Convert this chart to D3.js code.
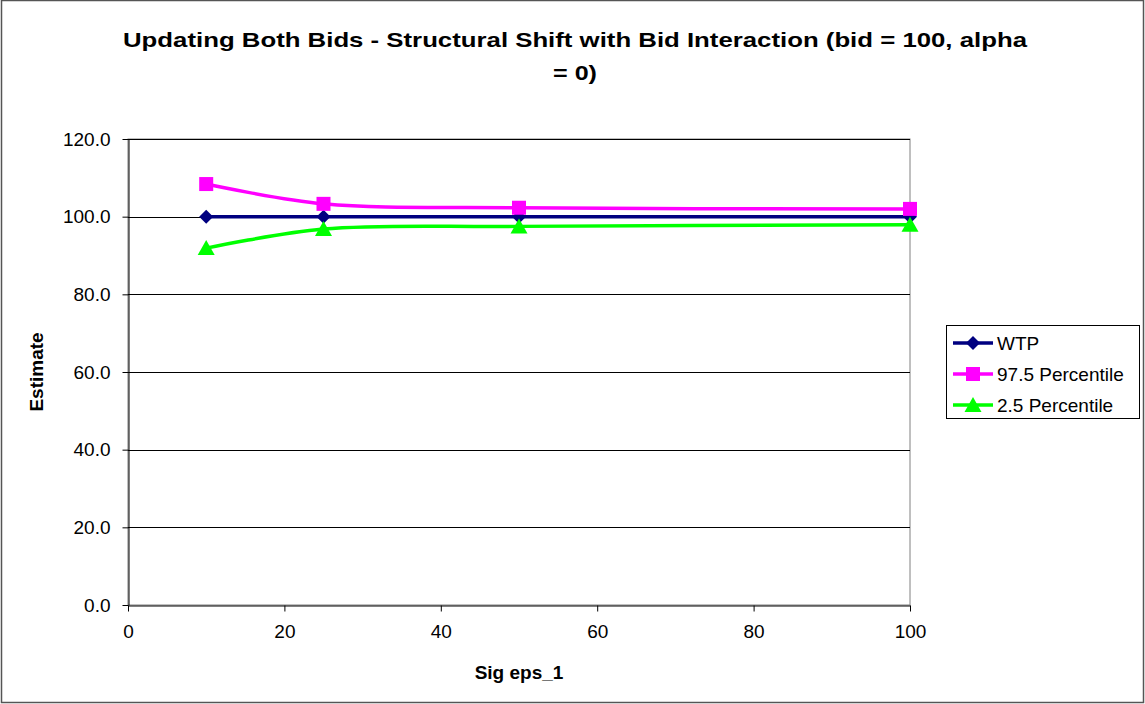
<!DOCTYPE html>
<html><head><meta charset="utf-8">
<script src="https://cdn.jsdelivr.net/npm/d3@7"></script>
<style>body{margin:0;background:#fff}svg{display:block}</style>
</head><body>
<svg id="c" width="1145" height="704"></svg>
<script>
const xValues = [10, 25, 50, 100];
const wtp = [100.0, 100.0, 100.0, 100.0];
const p975 = [108.4, 103.3, 102.3, 102.0];
const p025 = [91.9, 96.8, 97.5, 97.9];
const seriesNames = ["WTP", "97.5 Percentile", "2.5 Percentile"];
const seriesColors = ["#000080", "#FF00FF", "#00FF00"];
const seriesShapes = ["diamond", "square", "triangle"];
const xTicks = [0, 20, 40, 60, 80, 100];
const yTicks = [0, 20, 40, 60, 80, 100, 120];
const titleLines = ["Updating Both Bids - Structural Shift with Bid Interaction (bid = 100, alpha", "= 0)"];

const svg = d3.select("#c");
const font = "Arial, 'Liberation Sans', sans-serif";
svg.append("rect").attr("x",1.5).attr("y",0.5).attr("width",1142).attr("height",702)
  .attr("fill","#fff").attr("stroke","#555").attr("stroke-width",1.5);

const L=128, R=910, T=139, B=605;
const x = d3.scaleLinear().domain([0,100]).range([L,R]);
const y = d3.scaleLinear().domain([0,120]).range([B,T]);

// title
const titleLens = [904, 44];
svg.append("g").selectAll("text").data(titleLines).join("text")
  .attr("x",575).attr("y",(d,i)=>47+i*33).attr("text-anchor","middle")
  .attr("font-family",font).attr("font-weight","bold").attr("font-size",21)
  .attr("textLength",(d,i)=>titleLens[i]).attr("lengthAdjust","spacingAndGlyphs").text(d=>d);

// plot border
svg.append("rect").attr("x",L).attr("y",T).attr("width",R-L).attr("height",B-T)
  .attr("fill","none").attr("stroke","#808080").attr("stroke-width",1);
// gridlines
svg.append("g").selectAll("line").data(yTicks.filter(d=>d>0)).join("line")
  .attr("x1",L).attr("x2",R).attr("y1",d=>Math.round(y(d))+0.5).attr("y2",d=>Math.round(y(d))+0.5)
  .attr("stroke","#000").attr("stroke-width",1);

// axes
const yAxis = svg.append("g").attr("transform",`translate(${L+0.5},0)`)
  .call(d3.axisLeft(y).tickValues(yTicks).tickFormat(d3.format(".1f")).tickSize(6).tickSizeOuter(0));
yAxis.selectAll("text").attr("font-family",font).attr("font-size",19).attr("fill","#000").attr("dx",-9);
const xAxis = svg.append("g").attr("transform",`translate(0,${B+0.5})`)
  .call(d3.axisBottom(x).tickValues(xTicks).tickSize(6).tickSizeOuter(0));
xAxis.selectAll("text").attr("font-family",font).attr("font-size",19).attr("fill","#000").attr("dy","1.25em");
svg.selectAll(".domain, .tick line").attr("stroke","#000");

// axis labels
svg.append("text").attr("x",519).attr("y",679).attr("text-anchor","middle")
  .attr("font-family",font).attr("font-weight","bold").attr("font-size",19).text("Sig eps_1");
svg.append("text").attr("transform",`translate(43,372) rotate(-90)`).attr("text-anchor","middle")
  .attr("font-family",font).attr("font-weight","bold").attr("font-size",19).text("Estimate");

const series = [wtp, p975, p025];
const line = d3.line().x((d,i)=>x(xValues[i])).y(d=>y(d)).curve(d3.curveCatmullRom.alpha(0.5));

function marker(g, shape, cx, cy, color){
  if(shape==="diamond"){
    g.append("path").attr("d",`M${cx},${cy-7}L${cx+7},${cy}L${cx},${cy+7}L${cx-7},${cy}Z`).attr("fill",color);
  } else if(shape==="square"){
    g.append("rect").attr("x",cx-7).attr("y",cy-7).attr("width",14).attr("height",14).attr("fill",color);
  } else {
    g.append("path").attr("d",`M${cx},${cy-8}L${cx+8.5},${cy+7}L${cx-8.5},${cy+7}Z`).attr("fill",color);
  }
}

const plotG = svg.append("g");
series.forEach((s,k)=>{
  plotG.append("path").datum(s).attr("d",line).attr("fill","none")
    .attr("stroke",seriesColors[k]).attr("stroke-width",3.5);
});
series.forEach((s,k)=>{
  s.forEach((v,i)=>marker(plotG, seriesShapes[k], x(xValues[i]), y(v), seriesColors[k]));
});

// legend
const lg = svg.append("g");
lg.append("rect").attr("x",946.5).attr("y",325.5).attr("width",193).attr("height",93)
  .attr("fill","#fff").attr("stroke","#000").attr("stroke-width",1);
seriesNames.forEach((n,k)=>{
  const cy = 343 + k*31;
  lg.append("line").attr("x1",953).attr("x2",993).attr("y1",cy).attr("y2",cy)
    .attr("stroke",seriesColors[k]).attr("stroke-width",3.5);
  marker(lg, seriesShapes[k], 973, cy, seriesColors[k]);
  lg.append("text").attr("x",997).attr("y",cy+7).attr("font-family",font).attr("font-size",19).text(n);
});
</script>
</body></html>
